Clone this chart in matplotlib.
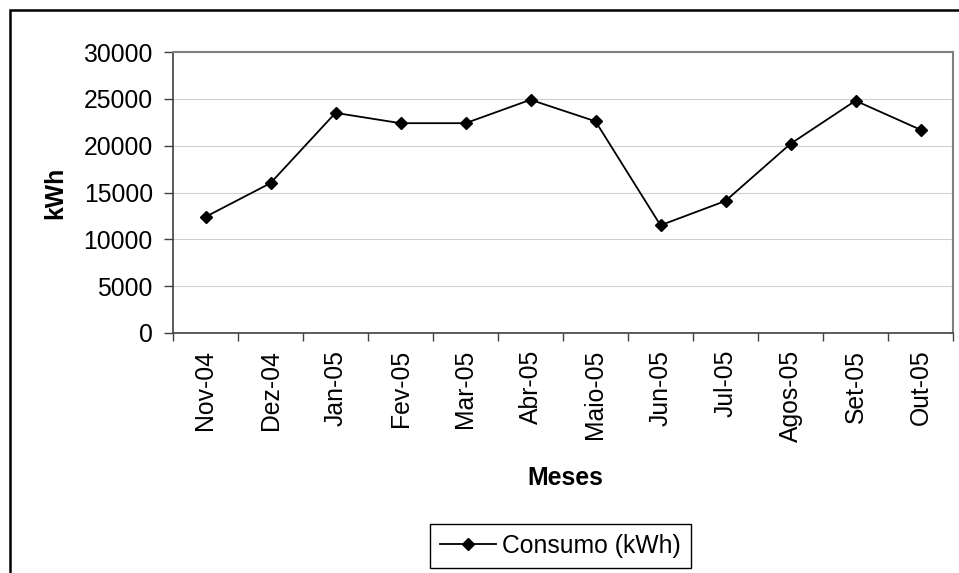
import matplotlib
matplotlib.use('Agg')
import matplotlib.pyplot as plt
from matplotlib.patches import Rectangle

plt.rcParams['font.family'] = ['Liberation Sans', 'DejaVu Sans']

meses = ['Nov-04', 'Dez-04', 'Jan-05', 'Fev-05', 'Mar-05', 'Abr-05',
         'Maio-05', 'Jun-05', 'Jul-05', 'Agos-05', 'Set-05', 'Out-05']
consumo = [12400, 16000, 23500, 22400, 22400, 24900,
           22600, 11500, 14100, 20200, 24800, 21700]
yticks = [0, 5000, 10000, 15000, 20000, 25000, 30000]

W, H = 959, 573
fig = plt.figure(figsize=(W / 100, H / 100), dpi=100)
ax = fig.add_axes([173 / W, 1 - 333 / H, (953 - 173) / W, (333 - 52) / H])

x = list(range(len(meses)))
ax.plot(x, consumo, color='black', lw=1.3, marker='D', ms=5.8,
        mfc='black', mec='black', label='Consumo (kWh)')

fs = 17.8
ax.set_xlim(-0.5, len(meses) - 0.5)
ax.set_ylim(0, 30000)
ax.set_yticks(yticks)
ax.set_yticklabels([str(v) for v in yticks], fontsize=fs)
ax.tick_params(axis='y', direction='out', length=6.5, width=1, color='#404040', pad=8)

# category labels centred, tick marks between categories (Excel style)
ax.set_xticks([i - 0.5 for i in range(len(meses) + 1)])
ax.set_xticklabels([])
ax.tick_params(axis='x', which='major', direction='out', length=6, width=1, color='#404040')
ax.set_xticks(x, minor=True)
ax.set_xticklabels(meses, minor=True, rotation=90, fontsize=fs)
ax.tick_params(axis='x', which='minor', length=0, pad=12)

ax.grid(axis='y', color='#d0d0d0', lw=0.8)
ax.set_axisbelow(True)
for s in ['top', 'right']:
    ax.spines[s].set_color('#808080')
    ax.spines[s].set_linewidth(1.5)
for s in ['left', 'bottom']:
    ax.spines[s].set_color('#404040')
    ax.spines[s].set_linewidth(1.2)

fig.text(67 / W, 1 - 193 / H, 'kWh', rotation=90, ha='right', va='center',
         fontsize=fs, fontweight='bold')
fig.text(565 / W, 1 - 485 / H, 'Meses', ha='center', va='baseline',
         fontsize=fs, fontweight='bold')

leg = fig.legend(loc='center', bbox_to_anchor=(560.5 / W, 1 - 546 / H),
                 fontsize=fs, frameon=True, fancybox=False, framealpha=1,
                 edgecolor='black', handlelength=2.26, handletextpad=0.24,
                 numpoints=1, borderpad=0.4)
leg.get_frame().set_linewidth(1)

# outer chart frame (cut off at right and bottom)
fig.add_artist(Rectangle((10 / W, -0.1), 1.0, 1.1 - 10 / H, transform=fig.transFigure,
                         fill=False, edgecolor='black', lw=1.8))

fig.savefig('out.png', dpi=100)
